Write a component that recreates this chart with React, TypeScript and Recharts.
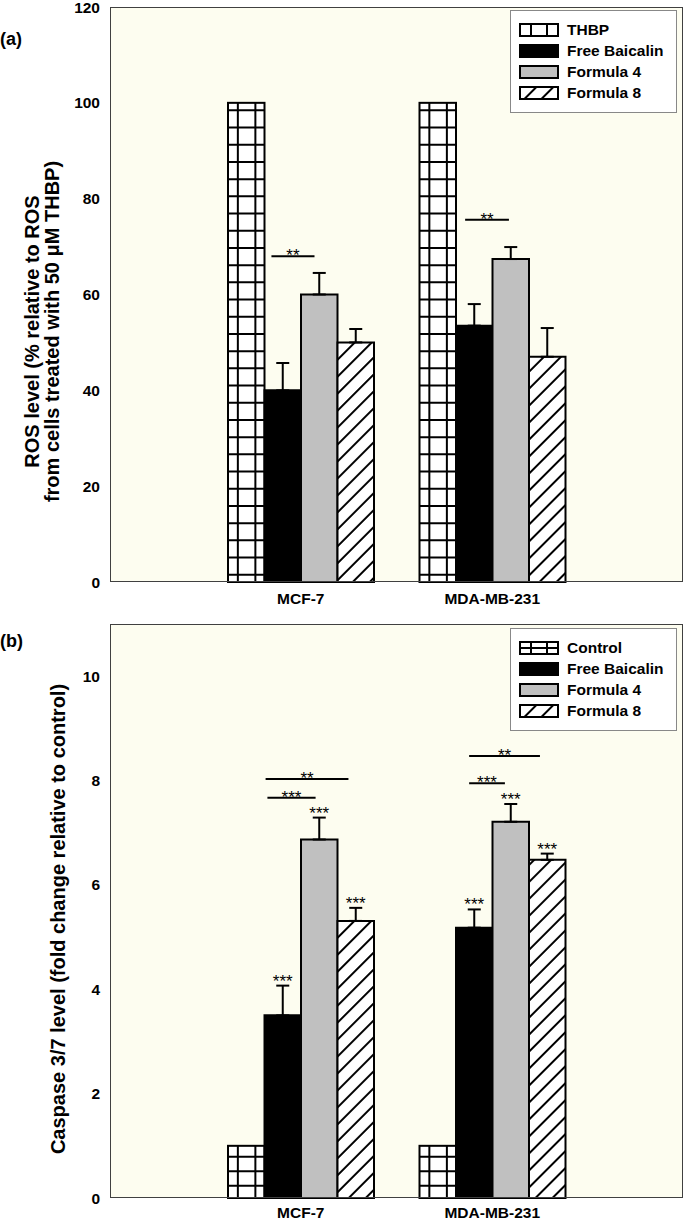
import React from 'react';
import { BarChart, Bar, XAxis, YAxis, CartesianGrid, ErrorBar, Legend, LabelList } from 'recharts';

const FONT = '"Liberation Sans", Arial, Helvetica, sans-serif';

const cells = ['MCF-7', 'MDA-MB-231'];

// (a) ROS level, % of THBP
const rosNames = ['THBP', 'Free Baicalin', 'Formula 4', 'Formula 8'];
const rosThbp = [100, 100];
const rosFree = [40, 53.5];
const rosF4 = [60, 67.4];
const rosF8 = [50, 47];
const rosFreeErr = [5.7, 4.5];
const rosF4Err = [4.5, 2.5];
const rosF8Err = [2.8, 6];
const rosTicks = [0, 20, 40, 60, 80, 100, 120];
const rosBrackets = [
  { cell: 0, level: 68, stars: '**' },
  { cell: 1, level: 75.6, stars: '**' },
];

// (b) caspase 3/7, fold change
const casNames = ['Control', 'Free Baicalin', 'Formula 4', 'Formula 8'];
const casControl = [1, 1];
const casFree = [3.5, 5.18];
const casF4 = [6.87, 7.21];
const casF8 = [5.31, 6.48];
const casFreeErr = [0.57, 0.35];
const casF4Err = [0.42, 0.34];
const casF8Err = [0.25, 0.12];
const casFreeStars = ['***', '***'];
const casF4Stars = ['***', '***'];
const casF8Stars = ['***', '***'];
const casTicks = [0, 2, 4, 6, 8, 10];
const casBrackets = [
  { cell: 0, level: 8.03, stars: '**' },
  { cell: 0, level: 7.67, stars: '***' },
  { cell: 1, level: 8.47, stars: '**' },
  { cell: 1, level: 7.95, stars: '***' },
];

// where each bracket starts/ends, in Free Baicalin bar widths
const rosSpans = [[0.19, 1.37], [0.25, 1.45]];
const casSpans = [[0.03, 2.3], [0.08, 1.4], [0.36, 2.3], [0.36, 1.34]];

function gridShape(step: number, first: number) {
  return (props: any) => {
    const { x, y, width, height } = props;
    const hs: number[] = [];
    for (let yy = y + first; yy < y + height - 2; yy += step) hs.push(yy);
    return (
      <g>
        <rect x={x} y={y} width={width} height={height} fill="#fff" />
        <line x1={x + width * 0.27} x2={x + width * 0.27} y1={y} y2={y + height} stroke="#000" strokeWidth={2} />
        <line x1={x + width * 0.75} x2={x + width * 0.75} y1={y} y2={y + height} stroke="#000" strokeWidth={2} />
        {hs.map((h) => (
          <line key={h} x1={x} x2={x + width} y1={h} y2={h} stroke="#000" strokeWidth={2} />
        ))}
        <rect x={x} y={y} width={width} height={height} fill="none" stroke="#000" strokeWidth={2} />
      </g>
    );
  };
}

function bracketLabel(values: number[], brackets: any[], spans: number[][]) {
  return (props: any) => {
    const vb = props.viewBox ?? props;
    const idx = props.index;
    const base = vb.y + vb.height;
    const ppu = vb.height / values[idx];
    return (
      <g>
        {brackets.map((b, i) => {
          if (b.cell !== idx) return null;
          const ly = base - b.level * ppu;
          const x1 = vb.x + spans[i][0] * vb.width;
          const x2 = vb.x + spans[i][1] * vb.width;
          return (
            <g key={i}>
              <line x1={x1} x2={x2} y1={ly} y2={ly} stroke="#000" strokeWidth={2} />
              <text x={(x1 + x2) / 2} y={ly + 5} textAnchor="middle" fontFamily={FONT} fontSize={17} fill="#000">
                {b.stars}
              </text>
            </g>
          );
        })}
      </g>
    );
  };
}

function starLabel(values: number[], errs: number[], stars: string[]) {
  return (props: any) => {
    const vb = props.viewBox ?? props;
    const idx = props.index;
    const ppu = vb.height / values[idx];
    const capY = vb.y - errs[idx] * ppu;
    return (
      <text x={vb.x + vb.width / 2} y={capY + 1} textAnchor="middle" fontFamily={FONT} fontSize={17} fill="#000">
        {stars[idx]}
      </text>
    );
  };
}

function axisTitle(lines: string[], offsets: number[], shift: number) {
  return (props: any) => {
    const vb = props.viewBox;
    const cy = vb.y + vb.height / 2 + shift;
    return (
      <g>
        {lines.map((t, i) => {
          const tx = vb.x + offsets[i];
          return (
            <text key={i} x={tx} y={cy} transform={`rotate(-90 ${tx} ${cy})`} textAnchor="middle"
              fontFamily={FONT} fontWeight="bold" fontSize={20} fill="#000">
              {t}
            </text>
          );
        })}
      </g>
    );
  };
}

function Swatch({ kind, midLine }: { kind: number; midLine?: boolean }) {
  const x = 1, y = 1, w = 38, h = 12;
  return (
    <svg width={40} height={14} style={{ display: 'block' }}>
      {kind === 0 && (
        <g>
          <rect x={x} y={y} width={w} height={h} fill="#fff" />
          <line x1={x + w * 0.29} x2={x + w * 0.29} y1={y} y2={y + h} stroke="#000" strokeWidth={2} />
          <line x1={x + w * 0.71} x2={x + w * 0.71} y1={y} y2={y + h} stroke="#000" strokeWidth={2} />
          {midLine && <line x1={x} x2={x + w} y1={y + h / 2} y2={y + h / 2} stroke="#000" strokeWidth={2} />}
        </g>
      )}
      <rect x={x} y={y} width={w} height={h}
        fill={kind === 0 ? 'none' : kind === 1 ? '#000' : kind === 2 ? '#c0c0c0' : 'url(#hatch)'}
        stroke="#000" strokeWidth={2} />
    </svg>
  );
}

function LegendBox({ names, midLine }: { names: string[]; midLine?: boolean }) {
  return (
    <div style={{
      width: 167, height: 103, boxSizing: 'border-box', background: '#fff', border: '1px solid #888',
      padding: '8px 0 0 8px', fontFamily: FONT, fontWeight: 'bold', fontSize: 15.5, color: '#000',
    }}>
      {names.map((n, i) => (
        <div key={n} style={{ display: 'flex', alignItems: 'center', height: 21 }}>
          <Swatch kind={i} midLine={midLine} />
          <span style={{ marginLeft: 8, lineHeight: '21px' }}>{n}</span>
        </div>
      ))}
    </div>
  );
}

const tickStyle = { fontFamily: FONT, fontWeight: 'bold', fontSize: 15.5, fill: '#000' };

function Panel(p: any) {
  const data = cells.map((cell, i) => ({
    cell,
    first: p.first[i],
    free: p.free[i], freeErr: [0, p.freeErr[i]],
    f4: p.f4[i], f4Err: [0, p.f4Err[i]],
    f8: p.f8[i], f8Err: [0, p.f8Err[i]],
  }));
  const plotH = p.height - p.marginTop - p.xHeight;
  return (
    <div style={{ position: 'relative', width: 685, height: p.height }}>
      <BarChart width={685} height={p.height} data={data} margin={{ top: p.marginTop, right: 2, bottom: 0, left: 0 }}
        barGap={0} barSize={36.5}>
        <CartesianGrid horizontal={false} vertical={false} fill="#fdfdf0" />
        <XAxis dataKey="cell" padding={{ left: 95, right: 95 }} axisLine={false} tickLine={false} tickSize={0}
          tickMargin={p.xTickMargin} height={p.xHeight} tick={tickStyle} interval={0} />
        <YAxis domain={p.domain} ticks={p.ticks} width={110} axisLine={false} tickLine={false} tickSize={0}
          tickMargin={10} tick={tickStyle} interval={0} label={axisTitle(p.title, p.titleOffsets, p.titleShift)} />
        <Bar dataKey="first" name={p.names[0]} isAnimationActive={false} shape={gridShape(p.gridStep, p.gridFirst)} />
        <Bar dataKey="free" name={p.names[1]} fill="#000" stroke="#000" strokeWidth={2} isAnimationActive={false}>
          <ErrorBar dataKey="freeErr" width={6.5} strokeWidth={2} stroke="#000" direction="y" />
          <LabelList dataKey="free" content={bracketLabel(p.free, p.brackets, p.spans)} />
          {p.freeStars && <LabelList dataKey="free" content={starLabel(p.free, p.freeErr, p.freeStars)} />}
        </Bar>
        <Bar dataKey="f4" name={p.names[2]} fill="#c0c0c0" stroke="#000" strokeWidth={2} isAnimationActive={false}>
          <ErrorBar dataKey="f4Err" width={6.5} strokeWidth={2} stroke="#000" direction="y" />
          {p.f4Stars && <LabelList dataKey="f4" content={starLabel(p.f4, p.f4Err, p.f4Stars)} />}
        </Bar>
        <Bar dataKey="f8" name={p.names[3]} fill="url(#hatch)" stroke="#000" strokeWidth={2} isAnimationActive={false}>
          <ErrorBar dataKey="f8Err" width={6.5} strokeWidth={2} stroke="#000" direction="y" />
          {p.f8Stars && <LabelList dataKey="f8" content={starLabel(p.f8, p.f8Err, p.f8Stars)} />}
        </Bar>
        <Legend layout="vertical" align="center" verticalAlign="middle"
          wrapperStyle={{ top: p.legendTop, left: 510, width: 167 }}
          content={() => <LegendBox names={p.names} midLine={p.midLine} />} />
      </BarChart>
      {/* plot frame */}
      <div style={{
        position: 'absolute', left: 110, top: p.marginTop, width: 573, height: plotH, boxSizing: 'border-box',
        border: '1.5px solid #404040', pointerEvents: 'none',
      }} />
    </div>
  );
}

export default function App() {
  return (
    <div style={{ position: 'absolute', left: 0, top: 0, width: 685, height: 1222, background: '#fff', overflow: 'hidden' }}>
      <svg width={0} height={0} style={{ position: 'absolute' }}>
        <defs>
          <pattern id="hatch" patternUnits="userSpaceOnUse" width={12} height={12} patternTransform="rotate(45)">
            <rect width={12} height={12} fill="#fff" />
            <line x1={0} x2={0} y1={0} y2={12} stroke="#000" strokeWidth={4} />
          </pattern>
        </defs>
      </svg>
      <div style={{ position: 'absolute', left: 0, top: 29, fontFamily: FONT, fontWeight: 'bold', fontSize: 18 }}>(a)</div>
      <div style={{ position: 'absolute', left: 0, top: 631, fontFamily: FONT, fontWeight: 'bold', fontSize: 18 }}>(b)</div>
      <div style={{ position: 'absolute', left: 0, top: 0 }}>
        <Panel height={615} marginTop={7} xHeight={33} xTickMargin={11} legendTop={10}
          names={rosNames} first={rosThbp} free={rosFree} f4={rosF4} f8={rosF8}
          freeErr={rosFreeErr} f4Err={rosF4Err} f8Err={rosF8Err}
          domain={[0, 120]} ticks={rosTicks} brackets={rosBrackets} spans={rosSpans}
          gridStep={17.2} gridFirst={7.5}
          title={['ROS level (% relative to ROS', 'from cells treated with 50 \u03bcM THBP)']}
          titleOffsets={[39, 59]} titleShift={37} />
      </div>
      <div style={{ position: 'absolute', left: 0, top: 612 }}>
        <Panel height={610} marginTop={12} xHeight={24} xTickMargin={9} legendTop={16} midLine
          names={casNames} first={casControl} free={casFree} f4={casF4} f8={casF8}
          freeErr={casFreeErr} f4Err={casF4Err} f8Err={casF8Err}
          freeStars={casFreeStars} f4Stars={casF4Stars} f8Stars={casF8Stars}
          domain={[0, 11]} ticks={casTicks} brackets={casBrackets} spans={casSpans}
          gridStep={14.5} gridFirst={11}
          title={['Caspase 3/7 level (fold change relative to control)']} titleOffsets={[65]} titleShift={8} />
      </div>
    </div>
  );
}
